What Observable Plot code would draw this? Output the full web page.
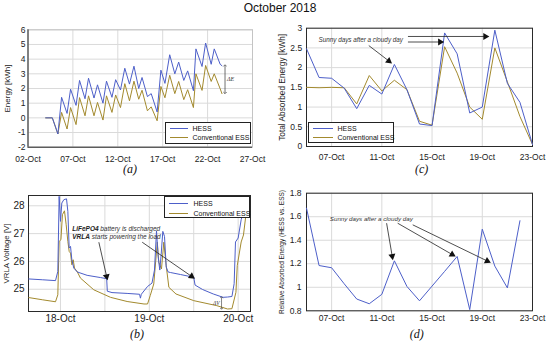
<!DOCTYPE html>
<html><head><meta charset="utf-8">
<script src="https://cdn.jsdelivr.net/npm/d3@7"></script>
<script src="https://cdn.jsdelivr.net/npm/@observablehq/plot@0.6"></script>
<style>
body{margin:0;background:#fff;}
#wrap{position:relative;width:550px;height:342px;font-family:"Liberation Sans",Arial,sans-serif;overflow:hidden;background:#fff;}
.panel{position:absolute;}
.title{position:absolute;left:0;width:560px;top:1px;text-align:center;font-size:12px;color:#111;}
.sub{position:absolute;font-family:"Liberation Serif","Times New Roman",serif;font-style:italic;font-size:12px;transform:translate(-50%,-50%);color:#111;}
.legend{position:absolute;border:1px solid #222;background:#fff;box-sizing:border-box;font-size:7px;color:#111;}
.legend .sw{position:absolute;height:1.2px;}
.legend .lt{position:absolute;line-height:8px;white-space:nowrap;transform:translateY(-50%);}
</style></head>
<body><div id="wrap"></div>
<script>
// ---------- data ----------
const seriesNames = ["HESS", "Conventional ESS"];
// (a) cumulative energy, October day-of-month (fractional)
const aTime = [3.97,4.71,5.33,5.74,6.35,6.74,7.35,7.74,8.35,8.74,9.35,9.74,10.35,10.74,11.35,11.76,12.3,12.78,13.3,13.8,14.33,14.7,15.3,15.72,16.38,16.8,17.25,17.78,18.35,18.78,19.35,19.78,20.42,20.7,21.38,21.78,22.4,22.74,23.4,23.6];
const aHess = [0,0,-1.1,1.4,0.3,1.95,0.85,2.55,1.3,2.7,1.35,2.25,1.0,2.5,1.4,2.6,1.9,3.38,2.3,3.52,2.0,2.75,1.45,1.65,0.4,3.25,2.35,4.3,3.0,3.8,2.55,3.2,1.85,4.7,3.5,5.1,3.65,4.7,3.65,3.55];
const aEss  = [0,0,-1.1,0.37,-0.76,0.7,-0.46,1.38,0.14,1.5,0.14,1.05,-0.15,1.5,0.37,1.56,0.7,2.33,1.16,2.5,1.27,1.88,0.48,0.75,-0.2,2.14,1.37,2.9,1.65,2.48,1.24,1.92,0.7,3.0,1.87,3.57,2.48,3.0,1.98,1.65];
const aXTicks = [2,7,12,17,22,27];
const aYTicks = [-2,-1,0,1,2,3,4,5,6];
// (b) VRLA voltage
const bHessTime = [17.644,17.8,17.944,17.97,17.985,18.0,18.015,18.038,18.068,18.083,18.098,18.113,18.128,18.15,18.19,18.3,18.45,18.52,18.527,18.58,18.75,18.89,18.9,18.91,18.98,19.03,19.058,19.081,19.099,19.118,19.133,19.152,19.171,19.19,19.212,19.24,19.35,19.5,19.515,19.6,19.72,19.83,19.88,19.93,19.955,19.97,20.0,20.034,20.071,20.101,20.139];
const bHessV = [25.37,25.34,25.31,25.64,28.34,27.44,28.1,28.22,28.25,27.8,26.48,26.54,26.06,25.76,25.62,25.5,25.42,25.38,24.93,24.88,24.85,24.82,24.68,24.82,25.1,25.22,25.69,27.1,26.18,25.69,26.24,27.08,26.9,25.8,25.62,25.6,25.53,25.43,25.15,24.99,24.83,24.71,24.72,24.74,25.2,26.7,26.84,27.5,27.92,28.22,28.36];
const bEssTime = [17.644,17.8,17.944,17.97,17.985,18.005,18.022,18.045,18.064,18.083,18.098,18.113,18.128,18.143,18.158,18.19,18.225,18.375,18.563,18.75,18.94,18.98,19.01,19.05,19.09,19.107,19.137,19.163,19.19,19.22,19.3,19.5,19.76,19.88,19.93,19.975,19.99,20.034,20.06,20.083,20.12,20.139];
const bEssV = [24.7,24.62,24.55,24.8,26.72,26.78,27.68,27.82,27.32,26.72,26.36,26.3,25.88,26.06,25.76,25.62,25.4,24.98,24.71,24.56,24.47,24.47,24.77,25.19,26.69,25.97,25.73,26.69,25.85,25.07,24.83,24.59,24.41,24.29,24.3,24.89,25.85,26.7,26.95,27.56,27.98,28.1];
const bXTicks = [18,19,20];
const bXGrid = [18,18.5,19,19.5,20];
const bYTicks = [25,26,27,28];
// (c) total absorbed energy per day
const cDays = [5,6,7,8,9,10,11,12,13,14,15,16,17,18,19,20,21,22,23];
const cHess = [2.48,1.75,1.73,1.48,0.96,1.55,1.33,2.08,1.44,0.57,0.53,2.88,2.35,0.85,1.0,2.95,1.6,1.12,0.05];
const cEss  = [1.5,1.49,1.5,1.49,1.08,1.8,1.41,1.68,1.44,0.64,0.54,2.53,1.86,1.0,0.69,2.5,1.64,0.76,0.05];
const cdXTicks = [7,11,15,19,23];
const cYTicks = [0,0.5,1,1.5,2,2.5,3];
// (d) relative absorbed energy
const dDays = [5,6,7,8,9,10,11,12,13,14,15,16,17,18,19,20,21,22];
const dRel = [1.673,1.185,1.166,1.03,0.9,0.86,0.94,1.225,1.007,0.885,1.01,1.135,1.262,0.81,1.494,1.18,0.995,1.566];
const dYTicks = [0.8,1,1.2,1.4,1.6,1.8];
// text
const titleText = "October 2018";
const labels = {a:"Energy [kWh]", b:"VRLA Voltage [V]", c:"Total Absorbed Energy [kWh]", d:"Relative Absorbed Energy (HESS vs. ESS)"};
const sunny = "Sunny days after a cloudy day";
// annotation anchors (data coordinates)
const annA = {x:23.94, y1:3.57, y2:1.69, lx:24.15, ly:2.62};
const annB = {tx:18.132, ty1:27.17, ty2:26.88, arrows:[[18.432,26.69,18.526,25.37],[18.92,26.69,19.5,25.41]], dv:{x:19.813,y1:24.71,y2:24.3,lx:19.79,ly:24.5}};
const annC = {tx:9.32, ty:2.69, arrows:[[9.96,2.56,11.72,2.13],[13.08,2.79,19.45,2.79],[13.08,2.65,15.85,2.65]]};
const annD = {tx:10.16, ty:1.579, arrows:[[11.38,1.545,11.86,1.243],[12.26,1.545,16.78,1.268],[13.46,1.531,19.58,1.214]]};

// ---------- helpers ----------
const FONT = "Liberation Sans, Arial, sans-serif";
const HC = "#4d5fc9", EC = "#a38a2e", GRID = "#dadada", AX = "#2a2a2a";
const oct = d => new Date(Date.UTC(2018, 9, 1) + (d - 1) * 864e5);
const fmt = d3.utcFormat("%d-%b");
const num = d => String(d);
const wrap = document.getElementById("wrap");
function place(el, left, top){ const d=document.createElement("div"); d.className="panel"; d.style.left=left+"px"; d.style.top=top+"px"; d.appendChild(el); wrap.appendChild(d); }
function sty(fs){ return {fontFamily: FONT, fontSize: fs+"px", background: "transparent", overflow: "visible", color:"#222"}; }
function rows(ts, vs, s){ return ts.map((t,i)=>({t: oct(t), v: vs[i], s})); }
function ylab(text, dx, fs){ return Plot.text([text], {text: d=>d, frameAnchor: "left", textAnchor: "middle", lineAnchor: "middle", dx, rotate: -90, fontSize: fs, fill: "#222"}); }
// arrows: thin link + filled triangular head (head angle derived from the same scale geometry as the plot)
function arrowMarks(list, dims, xDom, yDom){
  const xs = d3.scaleUtc(xDom.map(oct), [dims.marginLeft, dims.width - dims.marginRight]);
  const ys = d3.scaleLinear(yDom, [dims.height - dims.marginBottom, dims.marginTop]);
  const segs = list.map(([x1,y1,x2,y2])=>{
    const px1=xs(oct(x1)), py1=ys(y1), px2=xs(oct(x2)), py2=ys(y2);
    const a=Math.atan2(py2-py1, px2-px1);
    const bx=px2-2.6*Math.cos(a), by=py2-2.6*Math.sin(a);
    return {x1:oct(x1), y1, x2:xs.invert(bx), y2:ys.invert(by), hx:xs.invert(bx), hy:ys.invert(by), rot:a*180/Math.PI+90};
  });
  return [
    Plot.link(segs, {x1:"x1", y1:"y1", x2:"x2", y2:"y2", stroke:"#222", strokeWidth:0.8}),
    Plot.dot(segs, {x:"hx", y:"hy", symbol:"triangle", r:2.6, fill:"#111", stroke:"none", rotate:"rot"})
  ];
}

// ---------- (a) ----------
const dimA = {width: 270, height: 165, marginLeft: 27.5, marginRight: 18, marginTop: 29.3, marginBottom: 18.3};
const A = Plot.plot({
  ...dimA,
  style: sty(8.5),
  x: {type: "utc", domain: [oct(2), oct(27)], label: null},
  y: {domain: [-2, 6], label: null},
  marks: [
    Plot.gridX(aXTicks.map(oct), {stroke: GRID, strokeOpacity: 1}),
    Plot.gridY(aYTicks, {stroke: GRID, strokeOpacity: 1}),
    Plot.frame({stroke: "#c4c4c4"}),
    Plot.ruleX([oct(2)], {stroke: AX}),
    Plot.ruleY([-2], {stroke: AX}),
    Plot.axisX(aXTicks.map(oct), {tickSize: 0, tickPadding: 8.5, tickFormat: fmt, label: null}),
    Plot.axisY(aYTicks, {tickSize: 0, tickPadding: 2.5, tickFormat: num, label: null}),
    ylab(labels.a, -21, 8),
    Plot.line(rows(aTime, aEss, seriesNames[1]), {x: "t", y: "v", stroke: EC, strokeWidth: 1}),
    Plot.line(rows(aTime, aHess, seriesNames[0]), {x: "t", y: "v", stroke: HC, strokeWidth: 1}),
    Plot.link([annA], {x1: d=>oct(d.x), x2: d=>oct(d.x), y1: "y1", y2: "y2", stroke: "#333", strokeWidth: 0.7, markerStart: "arrow-reverse", markerEnd: "arrow"}),
    Plot.text([annA], {x: d=>oct(d.lx), y: "ly", text: ()=>"ΔE", textAnchor: "start", fontSize: 6, fontStyle: "italic", fontFamily: "Liberation Serif, serif", fill: "#333"})
  ]
});
place(A, 0, 0);

// ---------- (b) ----------
const dimB = {width: 265, height: 165, marginLeft: 28, marginRight: 15, marginTop: 24, marginBottom: 25};
const bXDom = [17.64, 20.139], bYDom = [24.2, 28.37];
const B = Plot.plot({
  ...dimB,
  style: sty(10),
  x: {type: "utc", domain: bXDom.map(oct), label: null},
  y: {domain: bYDom, label: null},
  marks: [
    Plot.gridX(bXGrid.map(oct), {stroke: GRID, strokeOpacity: 1}),
    Plot.gridY(bYTicks, {stroke: GRID, strokeOpacity: 1}),
    Plot.frame({stroke: AX}),
    Plot.axisX(bXTicks.map(oct), {tickSize: 0, tickPadding: 3.5, tickFormat: fmt, label: null}),
    Plot.axisY(bYTicks, {tickSize: 0, tickPadding: 4, tickFormat: num, label: null}),
    ylab(labels.b, -22, 7.8),
    Plot.line(rows(bEssTime, bEssV, seriesNames[1]), {x: "t", y: "v", stroke: EC, strokeWidth: 1, clip: true}),
    Plot.line(rows(bHessTime, bHessV, seriesNames[0]), {x: "t", y: "v", stroke: HC, strokeWidth: 1, clip: true}),
    Plot.text([annB], {x: d=>oct(d.tx), y: "ty1", text: ()=>"LiFePO4", textAnchor: "start", fontSize: 6.5, fontWeight: "bold", fontStyle: "italic", fill: "#222"}),
    Plot.text([annB], {x: d=>oct(d.tx), y: "ty1", dx: 28, text: ()=>"battery is discharged", textAnchor: "start", fontSize: 6.5, fontStyle: "italic", fill: "#333"}),
    Plot.text([annB], {x: d=>oct(d.tx), y: "ty2", text: ()=>"VRLA", textAnchor: "start", fontSize: 6.5, fontWeight: "bold", fontStyle: "italic", fill: "#222"}),
    Plot.text([annB], {x: d=>oct(d.tx), y: "ty2", dx: 19.5, text: ()=>"starts powering the load", textAnchor: "start", fontSize: 6.5, fontStyle: "italic", fill: "#333"}),
    ...arrowMarks(annB.arrows, dimB, bXDom, bYDom),
    Plot.link([annB.dv], {x1: d=>oct(d.x), x2: d=>oct(d.x), y1: "y1", y2: "y2", stroke: "#333", strokeWidth: 0.6, markerStart: "arrow-reverse", markerEnd: "arrow"}),
    Plot.text([annB.dv], {x: d=>oct(d.lx), y: "ly", text: ()=>"ΔV", textAnchor: "end", fontSize: 5.5, fontStyle: "italic", fontFamily: "Liberation Serif, serif", fill: "#333"})
  ]
});
place(B, 0, 171);

// ---------- (c) ----------
const dimC = {width: 275, height: 165, marginLeft: 31, marginRight: 18, marginTop: 27.7, marginBottom: 19};
const cXDom = [5, 23];
const C = Plot.plot({
  ...dimC,
  style: sty(8.5),
  x: {type: "utc", domain: cXDom.map(oct), label: null},
  y: {domain: [0, 3], label: null},
  marks: [
    Plot.gridX(cdXTicks.map(oct), {stroke: GRID, strokeOpacity: 1}),
    Plot.gridY(cYTicks, {stroke: GRID, strokeOpacity: 1}),
    Plot.frame({stroke: AX}),
    Plot.axisX(cdXTicks.map(oct), {tickSize: 0, tickPadding: 7.8, tickFormat: fmt, label: null}),
    Plot.axisY(cYTicks, {tickSize: 0, tickPadding: 4.3, tickFormat: num, label: null}),
    ylab(labels.c, -23.7, 8.3),
    Plot.line(cDays.map((d,i)=>({t: oct(d), v: cEss[i]})), {x: "t", y: "v", stroke: EC, strokeWidth: 1}),
    Plot.line(cDays.map((d,i)=>({t: oct(d), v: cHess[i]})), {x: "t", y: "v", stroke: HC, strokeWidth: 1}),
    Plot.text([annC], {x: d=>oct(d.tx), y: "ty", text: ()=>sunny, fontSize: 6.3, fontStyle: "italic", fill: "#333"}),
    ...arrowMarks(annC.arrows, dimC, cXDom, [0, 3])
  ]
});
place(C, 275, 0);

// ---------- (d) ----------
const dimD = {width: 275, height: 165, marginLeft: 31, marginRight: 18, marginTop: 21.7, marginBottom: 25.7};
const D = Plot.plot({
  ...dimD,
  style: sty(8.5),
  x: {type: "utc", domain: cXDom.map(oct), label: null},
  y: {domain: [0.8, 1.8], label: null},
  marks: [
    Plot.gridX(cdXTicks.map(oct), {stroke: GRID, strokeOpacity: 1}),
    Plot.gridY(dYTicks, {stroke: GRID, strokeOpacity: 1}),
    Plot.frame({stroke: AX}),
    Plot.axisX(cdXTicks.map(oct), {tickSize: 0, tickPadding: 4.5, tickFormat: fmt, label: null}),
    Plot.axisY(dYTicks, {tickSize: 0, tickPadding: 5, tickFormat: num, label: null}),
    ylab(labels.d, -25, 6.5),
    Plot.line(dDays.map((d,i)=>({t: oct(d), v: dRel[i]})), {x: "t", y: "v", stroke: HC, strokeWidth: 1}),
    Plot.text([annD], {x: d=>oct(d.tx), y: "ty", text: ()=>sunny, fontSize: 6.2, fontStyle: "italic", fill: "#333"}),
    ...arrowMarks(annD.arrows, dimD, cXDom, [0.8, 1.8])
  ]
});
place(D, 275, 171);

// ---------- titles, sub labels, legends ----------
const t = document.createElement("div"); t.className = "title"; t.textContent = titleText; wrap.appendChild(t);
[["(a)",130,169],["(b)",137,334],["(c)",421.7,169.3],["(d)",416.7,334]].forEach(([s,x,y])=>{
  const e=document.createElement("div"); e.className="sub"; e.textContent=s; e.style.left=x+"px"; e.style.top=y+"px"; wrap.appendChild(e);
});
function legend(left, top, w, h, r1, r2, l0, l1, tx){
  const box=document.createElement("div"); box.className="legend";
  Object.assign(box.style,{left:left+"px",top:top+"px",width:w+"px",height:h+"px"});
  [[seriesNames[0],HC,r1],[seriesNames[1],EC,r2]].forEach(([name,col,cy])=>{
    const sw=document.createElement("div"); sw.className="sw";
    Object.assign(sw.style,{left:l0+"px",width:(l1-l0)+"px",top:(cy-0.6)+"px",background:col}); box.appendChild(sw);
    const lt=document.createElement("div"); lt.className="lt"; lt.textContent=name;
    Object.assign(lt.style,{left:tx+"px",top:(cy+0.5)+"px"}); box.appendChild(lt);
  });
  wrap.appendChild(box);
}
legend(165,122,86,21.5, 5.8, 14.8, 3.5, 21.5, 26.5);
legend(164,196,86,22, 6.2, 16.2, 3.5, 22.5, 28.5);
legend(308,121.7,86,21.5, 5.8, 14.8, 4, 24, 28.5);
</script></body></html>
